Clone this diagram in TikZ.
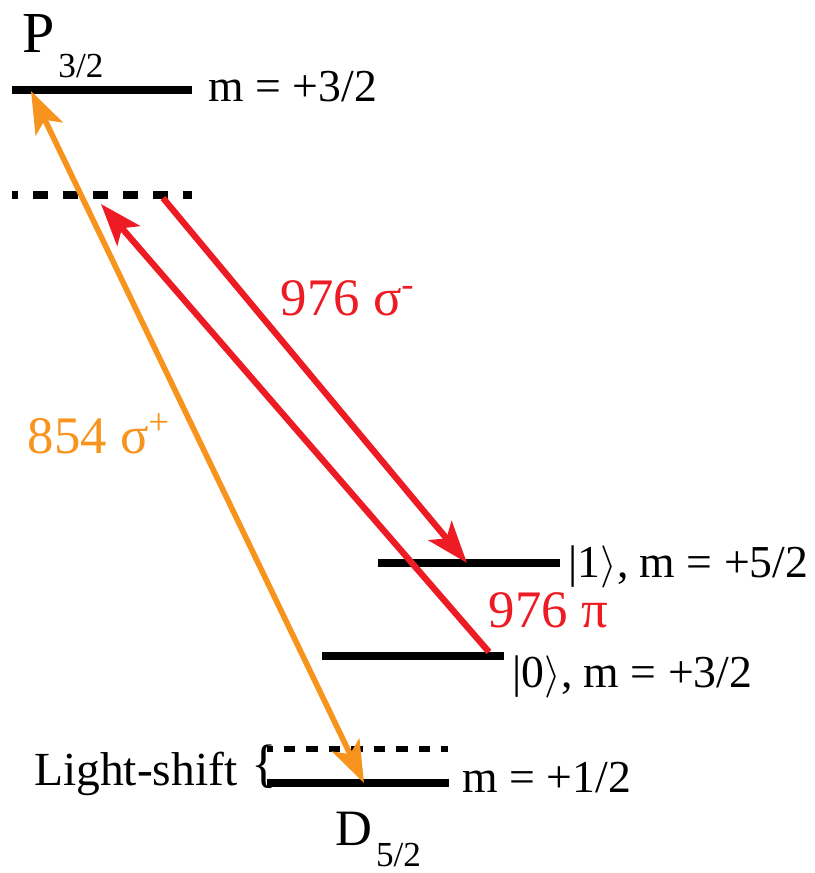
\documentclass[tikz,border=0pt]{standalone}
\usepackage{fontspec}
\setmainfont{Liberation Serif}
\usetikzlibrary{arrows.meta}
\definecolor{laserorange}{HTML}{F7941D}
\definecolor{laserred}{HTML}{ED1C24}

\begin{document}
\begin{tikzpicture}[
    x=0.01cm, y=-0.01cm,
    lasertip/.tip={Stealth[length=0.42cm, width=0.3cm, inset=0.1cm]},
    level/.style={line width=2pt},
    virtual/.style={line width=2pt, dash pattern=on 0.15cm off 0.15cm, dash phase=0.09cm},
    shifted/.style={line width=1.8pt, dash pattern=on 0.115cm off 0.11cm, dash phase=0.06cm},
    beam/.style={line width=1.8pt, -lasertip},
    lbl/.style={font=\fontsize{13}{16}\selectfont, inner sep=0pt, anchor=base west},
    beamlbl/.style={font=\fontsize{15}{18}\selectfont, inner sep=0pt, anchor=base west},
]
\useasboundingbox (0,0) rectangle (814,873);

\coordinate (p32l) at (12,90);
\coordinate (p32r) at (192,90);
\coordinate (virtl) at (12,195);
\coordinate (virtr) at (192,195);
\coordinate (onel) at (378,563);
\coordinate (oner) at (560,563);
\coordinate (zerol) at (322,656);
\coordinate (zeror) at (504,656);
\coordinate (shiftl) at (267,749);
\coordinate (shiftr) at (448,749);
\coordinate (d52l) at (267,783);
\coordinate (d52r) at (449,783);

\coordinate (p32hit) at (31,91);
\coordinate (d52hit) at (364,783);
\coordinate (virtout) at (163,198);
\coordinate (virtin) at (101,204);
\coordinate (onehit) at (467,563);
\coordinate (zeroout) at (489,652);

\draw[level] (p32l) -- (p32r);
\draw[virtual] (virtl) -- (virtr);
\draw[level] (onel) -- (oner);
\draw[level] (zerol) -- (zeror);
\draw[shifted] (shiftl) -- (shiftr);
\draw[level] (d52l) -- (d52r);

\draw[line width=1.6pt, laserorange, lasertip-lasertip] (p32hit) -- (d52hit);
\draw[beam, laserred] (virtout) -- (onehit);
\draw[beam, laserred] (zeroout) -- (virtin);

\node[lbl, font=\fontsize{16.5}{20}\selectfont] (p32name) at (22,53)
    {P\kern1pt\raisebox{-7pt}{\fontsize{10}{12}\selectfont 3/2}};
\node[lbl, font=\fontsize{14.5}{18}\selectfont] (d52name) at (335,845)
    {D\kern1pt\raisebox{-6pt}{\fontsize{10}{12}\selectfont 5/2}};

\node[lbl] (p32m) at (208,102) {m = +3/2};
\node[lbl] (onem) at (568,577) {|1$\rangle$, m = +5/2};
\node[lbl] (zerom) at (512,687) {|0$\rangle$, m = +3/2};
\node[lbl] (d52m) at (462,792) {m = +1/2};
\node[lbl, font=\fontsize{13.5}{16}\selectfont, anchor=base east] (shiftlbl) at (238,785) {Light-shift};
\node[lbl, font=\fontsize{15}{18}\selectfont] (shiftbrace) at (251,781) {\{};

\node[beamlbl, text=laserred] (sminus) at (280,315) {976 σ\textsuperscript{-}};
\node[beamlbl, text=laserorange] (splus) at (27,453) {854 σ\textsuperscript{+}};
\node[beamlbl, text=laserred] (pilbl) at (488,627) {976 π};
\end{tikzpicture}
\end{document}
